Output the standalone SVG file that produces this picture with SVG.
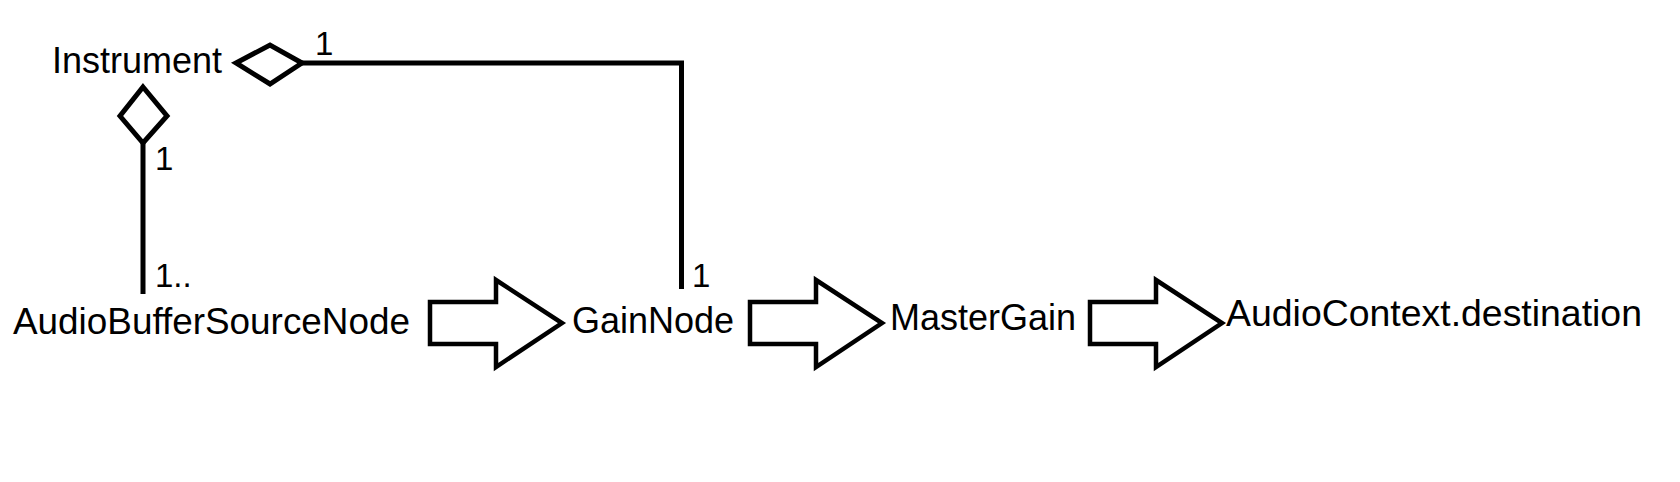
<svg xmlns="http://www.w3.org/2000/svg" width="1680" height="482" viewBox="0 0 1680 482">
<style>
  .lbl { font-family: "Liberation Sans", Arial, sans-serif; font-size: 36px; fill: #000; }
  .mult { font-family: "Liberation Sans", Arial, sans-serif; font-size: 33px; fill: #000; }
  .ln { fill: none; stroke: #000; stroke-width: 5; }
  .arr { fill: #fff; stroke: #000; stroke-width: 4.5; stroke-linejoin: miter; }
</style>
<defs>
  <path id="bigArrow" d="M0,-21 L66,-21 L66,-43 L132,0 L66,44 L66,21 L0,21 Z"/>
</defs>
<rect width="1680" height="482" fill="#fff"/>
<g id="connectors">
  <polygon class="ln" points="236,63 270,45 302,63 270,84"/>
  <polyline class="ln" points="302,63 681.5,63 681.5,289"/>
  <polygon class="ln" points="143,87 167,116 143,143 120,116"/>
  <line class="ln" x1="143" y1="143" x2="143" y2="294"/>
  <use href="#bigArrow" class="arr" x="430" y="323"/>
  <use href="#bigArrow" class="arr" x="750" y="323"/>
  <use href="#bigArrow" class="arr" x="1090" y="323"/>
  <text class="mult" x="315" y="55">1</text>
  <text class="mult" x="155" y="170">1</text>
  <text class="mult" x="155" y="287">1..</text>
  <text class="mult" x="692" y="287">1</text>
</g>
<g id="instrument"><text class="lbl" x="52" y="73">Instrument</text></g>
<g id="audioBufferSourceNode"><text class="lbl" x="13" y="334" textLength="397" lengthAdjust="spacingAndGlyphs">AudioBufferSourceNode</text></g>
<g id="gainNode"><text class="lbl" x="572" y="333">GainNode</text></g>
<g id="masterGain"><text class="lbl" x="890" y="330">MasterGain</text></g>
<g id="audioContextDestination"><text class="lbl" x="1226" y="326" textLength="416" lengthAdjust="spacingAndGlyphs">AudioContext.destination</text></g>
</svg>
